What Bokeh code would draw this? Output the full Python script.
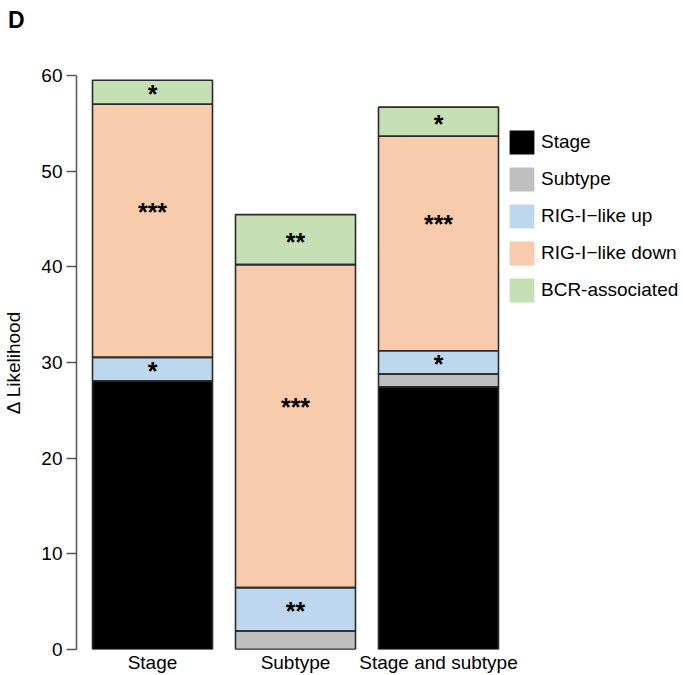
from bokeh.plotting import figure
from bokeh.models import ColumnDataSource, FixedTicker, Legend, LegendItem, Range1d, Div
from bokeh.layouts import column
from bokeh.embed import file_html
from bokeh.resources import INLINE
from bokeh.core.properties import value

# ---- data ----
models = ["Stage", "Subtype", "Stage and subtype"]
stage = [28.1, 0.0, 27.46]
subtype = [0.0, 1.94, 1.33]
rig_up = [2.44, 4.53, 2.44]
rig_down = [26.45, 33.76, 22.42]
bcr = [2.52, 5.23, 3.04]
stars_up = ["*", "**", "*"]
stars_down = ["***", "***", "***"]
stars_bcr = ["*", "**", "*"]
series_names = ["Stage", "Subtype", "RIG-I\u2212like up", "RIG-I\u2212like down", "BCR-associated"]
series_keys = ["stage", "subtype", "rig_up", "rig_down", "bcr"]
y_ticks = [0, 10, 20, 30, 40, 50, 60]

# ---- style ----
colors = ["#000000", "#bfbfbf", "#bdd7ee", "#f8cbad", "#c5e0b4"]
FONT = "Liberation Sans"
HEADER_H = 30

xs = [i + 1 for i in range(len(models))]
data = dict(x=xs, stage=stage, subtype=subtype, rig_up=rig_up, rig_down=rig_down, bcr=bcr)
src = ColumnDataSource(data)

unit_px = 143.0
frame_left_px = 76.0
frame_w = 607.0
x0 = 1 - frame_left_px / unit_px
p = figure(width=683, height=675 - HEADER_H, output_backend="svg", toolbar_location=None,
           x_range=Range1d(x0, x0 + frame_w / unit_px), y_range=Range1d(0, 60),
           min_border_left=76, min_border_right=0, min_border_top=75 - HEADER_H,
           min_border_bottom=26, margin=0)
p.outline_line_color = None
p.xgrid.visible = False
p.ygrid.visible = False
p.background_fill_color = "white"
p.border_fill_color = "white"

bar_w = 120.0 / unit_px
fills = p.vbar_stack(series_keys, x="x", width=bar_w, color=colors, line_color=None, source=src)
p.vbar_stack(series_keys, x="x", width=bar_w, fill_alpha=0, line_color="#2b2b2b",
             line_width=1.6, source=src)

# significance stars at segment midpoints
def mids(lower_lists, seg):
    out = []
    for i in range(len(models)):
        base = sum(l[i] for l in lower_lists)
        out.append(base + seg[i] / 2.0)
    return out

y_up = mids([stage, subtype], rig_up)
y_down = mids([stage, subtype, rig_up], rig_down)
y_bcr = mids([stage, subtype, rig_up, rig_down], bcr)

star_kw = dict(text_align="center", text_baseline="middle", text_font=value(FONT),
               text_font_style="bold", text_font_size="25px", text_color="black")
small_x = []
small_y = []
small_t = []
for i in range(len(models)):
    for yy, tt in ((y_up[i], stars_up[i]), (y_bcr[i], stars_bcr[i])):
        if tt:
            small_x.append(xs[i]); small_y.append(yy); small_t.append(tt)
p.text(x=small_x, y=small_y, text=small_t, y_offset=2, **star_kw)
p.text(x=xs, y=y_down, text=stars_down, y_offset=-19, **star_kw)

# axes
yax = p.yaxis[0]
yax.ticker = FixedTicker(ticks=y_ticks)
yax.axis_label = "\u0394 Likelihood"
yax.axis_label_text_font = FONT
yax.axis_label_text_font_style = "normal"
yax.axis_label_text_font_size = "19px"
yax.axis_label_text_color = "black"
yax.axis_label_standoff = 14
yax.major_label_text_font = FONT
yax.major_label_text_font_size = "19px"
yax.major_label_text_color = "black"
yax.major_label_standoff = 4
yax.major_tick_out = 10
yax.major_tick_in = 0
yax.minor_tick_out = 0
yax.minor_tick_in = 0
yax.axis_line_color = "#555555"
yax.axis_line_width = 1.5
yax.major_tick_line_color = "#555555"
yax.major_tick_line_width = 1.5

xax = p.xaxis[0]
xax.ticker = FixedTicker(ticks=xs)
xax.major_label_overrides = {x: m for x, m in zip(xs, models)}
xax.major_label_text_font = FONT
xax.major_label_text_font_size = "19px"
xax.major_label_text_color = "black"
xax.major_label_standoff = 2
xax.major_tick_out = 0
xax.major_tick_in = 0
xax.minor_tick_out = 0
xax.minor_tick_in = 0
xax.axis_line_color = None
xax.major_tick_line_color = None
xax.minor_tick_line_color = None

# legend
items = [LegendItem(label=n, renderers=[r]) for n, r in zip(series_names, fills)]
legend = Legend(items=items, location=(430, 344), orientation="vertical",
                glyph_width=31, glyph_height=30, label_height=30, spacing=7,
                label_standoff=4, padding=0, margin=0,
                label_text_font=FONT, label_text_font_size="19px", label_text_color="black",
                border_line_color=None, background_fill_alpha=0)
p.add_layout(legend, "center")

# panel letter
header = Div(text="D", width=683, height=HEADER_H, margin=0,
             styles={"font-family": FONT, "font-size": "23px", "font-weight": "bold",
                     "line-height": "23px", "padding-left": "8px", "padding-top": "9px",
                     "color": "black", "box-sizing": "border-box"})

layout = column(header, p, spacing=0, margin=0)
open("out.html", "w").write(file_html(layout, INLINE))
